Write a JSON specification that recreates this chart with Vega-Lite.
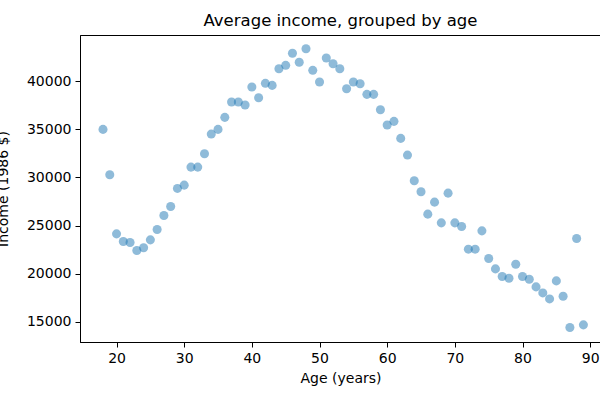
{
  "$schema": "https://vega.github.io/schema/vega-lite/v6.json",
  "width": 521,
  "height": 307,
  "autosize": {"type": "none"},
  "padding": {"left": 80, "top": 35, "right": -1, "bottom": 58},
  "background": "white",
  "title": {"text": "Average income, grouped by age", "font": "DejaVu Sans", "fontSize": 16.5, "fontWeight": "normal", "color": "#000000", "anchor": "middle", "offset": 6},
  "data": {"values": [
    {"age": 18, "income": 34984}, {"age": 19, "income": 30270}, {"age": 20, "income": 24143},
    {"age": 21, "income": 23354}, {"age": 22, "income": 23250}, {"age": 23, "income": 22419},
    {"age": 24, "income": 22700}, {"age": 25, "income": 23520}, {"age": 26, "income": 24600},
    {"age": 27, "income": 26054}, {"age": 28, "income": 26989}, {"age": 29, "income": 28858},
    {"age": 30, "income": 29200}, {"age": 31, "income": 31070}, {"age": 32, "income": 31070},
    {"age": 33, "income": 32451}, {"age": 34, "income": 34496}, {"age": 35, "income": 34984},
    {"age": 36, "income": 36230}, {"age": 37, "income": 37820}, {"age": 38, "income": 37820},
    {"age": 39, "income": 37508}, {"age": 40, "income": 39377}, {"age": 41, "income": 38266},
    {"age": 42, "income": 39761}, {"age": 43, "income": 39550}, {"age": 44, "income": 41277},
    {"age": 45, "income": 41630}, {"age": 46, "income": 42876}, {"age": 47, "income": 41942},
    {"age": 48, "income": 43354}, {"age": 49, "income": 41111}, {"age": 50, "income": 39896},
    {"age": 51, "income": 42388}, {"age": 52, "income": 41800}, {"age": 53, "income": 41277},
    {"age": 54, "income": 39200}, {"age": 55, "income": 39896}, {"age": 56, "income": 39720},
    {"age": 57, "income": 38619}, {"age": 58, "income": 38619}, {"age": 59, "income": 37020},
    {"age": 60, "income": 35431}, {"age": 61, "income": 35815}, {"age": 62, "income": 34050},
    {"age": 63, "income": 32316}, {"age": 64, "income": 29647}, {"age": 65, "income": 28520},
    {"age": 66, "income": 26189}, {"age": 67, "income": 27435}, {"age": 68, "income": 25286},
    {"age": 69, "income": 28370}, {"age": 70, "income": 25286}, {"age": 71, "income": 24912},
    {"age": 72, "income": 22555}, {"age": 73, "income": 22555}, {"age": 74, "income": 24455},
    {"age": 75, "income": 21589}, {"age": 76, "income": 20509}, {"age": 77, "income": 19720},
    {"age": 78, "income": 19544}, {"age": 79, "income": 20997}, {"age": 80, "income": 19720},
    {"age": 81, "income": 19440}, {"age": 82, "income": 18640}, {"age": 83, "income": 18017},
    {"age": 84, "income": 17394}, {"age": 85, "income": 19263}, {"age": 86, "income": 17675},
    {"age": 87, "income": 14424}, {"age": 88, "income": 23666}, {"age": 89, "income": 14700}
  ]},
  "mark": {"type": "circle", "size": 82, "color": "#1f77b4", "opacity": 0.5},
  "encoding": {
    "x": {
      "field": "age", "type": "quantitative",
      "scale": {"domain": [14.6, 91.6], "nice": false, "zero": false},
      "axis": {"title": "Age (years)", "values": [20, 30, 40, 50, 60, 70, 80, 90], "grid": false}
    },
    "y": {
      "field": "income", "type": "quantitative",
      "scale": {"domain": [12923, 44777], "nice": false, "zero": false},
      "axis": {"title": "Income (1986 $)", "values": [15000, 20000, 25000, 30000, 35000, 40000], "format": "d", "grid": false,
               "titleX": -73, "titleY": 153.5, "titleAngle": -90, "titleBaseline": "alphabetic", "titleAlign": "center"}
    }
  },
  "config": {
    "view": {"stroke": "#000000", "strokeWidth": 1},
    "axis": {
      "domainColor": "#000000", "tickColor": "#000000", "tickSize": 5, "labelPadding": 4,
      "labelFont": "DejaVu Sans", "labelFontSize": 14, "labelColor": "#000000",
      "titleFont": "DejaVu Sans", "titleFontSize": 14, "titleFontWeight": "normal", "titleColor": "#000000",
      "titlePadding": 6, "labelFlush": false, "labelOverlap": false
    }
  }
}
